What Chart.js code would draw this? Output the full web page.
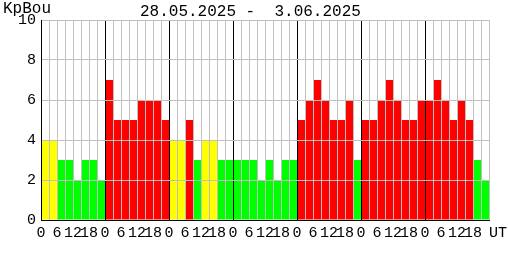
<!DOCTYPE html>
<html><head><meta charset="utf-8">
<script src="https://cdn.jsdelivr.net/npm/chart.js@4/dist/chart.umd.min.js"></script>
<style>
html,body{margin:0;padding:0;background:#fff;}
#wrap{position:relative;width:508px;height:260px;overflow:hidden;}
canvas{position:absolute;left:0;top:0;}
.t{position:absolute;font-family:"Liberation Mono",monospace;font-size:16px;line-height:16px;color:#000;white-space:pre;}
</style></head><body>
<div id="wrap"><canvas id="c" width="508" height="260"></canvas>
<div class="t" style="left:3px;top:1px">KpBou</div>
<div class="t" style="left:140px;top:4px">28.05.2025 -  3.06.2025</div>
</div>
<script>
// Kp index, 3-hour intervals, 28.05.2025 – 3.06.2025
const kpValues = [
  4,4,3,3,2,3,3,2,
  7,5,5,5,6,6,6,5,
  4,4,5,3,4,4,3,3,
  3,3,3,2,3,2,3,3,
  5,6,7,6,5,5,6,3,
  5,5,6,7,6,5,5,6,
  6,7,6,5,6,5,3,2
];
const hourLabels = ['0','6','12','18'];
const unitLabel = 'UT';
const yTicks = [0,2,4,6,8,10];
const barsPerDay = 8;

const RED = '#ff0000', GREEN = '#00ff00', YELLOW = '#ffff00';
function kpColor(v){ return v < 4 ? GREEN : (v === 4 ? YELLOW : RED); }

const nBars = kpValues.length;
const tickFont = {family:'"Liberation Mono", monospace', size:15};

new Chart(document.getElementById('c'), {
  type:'bar',
  data:{
    datasets:[{
      data: kpValues.map((v,i)=>({x:i+0.5, y:v})),
      backgroundColor: kpValues.map(kpColor),
      borderWidth:0,
      barPercentage:1,
      categoryPercentage:1,
      inflateAmount:0
    }]
  },
  options:{
    responsive:false,
    animation:false,
    events:[],
    layout:{padding:{left:0,right:19,top:20,bottom:0}},
    plugins:{legend:{display:false}, tooltip:{enabled:false}, title:{display:false}},
    scales:{
      x:{
        type:'linear', min:0, max:nBars, offset:false,
        grid:{offset:false, drawTicks:false, z:1, lineWidth:1,
          color: ctx => {
            const v = ctx.tick ? ctx.tick.value : 0;
            return (v % barsPerDay === 0 && v > 0 && v < nBars) ? '#000000' : '#c0c0c0';
          }},
        border:{color:'#000', z:2, width:1},
        ticks:{stepSize:1, autoSkip:false, maxRotation:0, minRotation:0, padding:4,
          font:tickFont, color:'#000',
          callback: v => {
            if (v === nBars) return '  ' + unitLabel;
            if (v % 2 !== 0) return '';
            return hourLabels[(v / 2) % hourLabels.length];
          }},
        afterFit: s => { s.height = 40; s.paddingLeft = 0; s.paddingRight = 0; }
      },
      y:{
        min:0, max:10,
        afterBuildTicks: s => { s.ticks = yTicks.map(v=>({value:v})); },
        grid:{drawTicks:false, z:1, color:'#c0c0c0', lineWidth:1},
        border:{color:'#000', z:2, width:1},
        ticks:{padding:5, font:tickFont, color:'#000'},
        afterFit: s => { s.width = 41; s.paddingTop = 0; s.paddingBottom = 0; }
      }
    }
  }
});
</script>
</body></html>
